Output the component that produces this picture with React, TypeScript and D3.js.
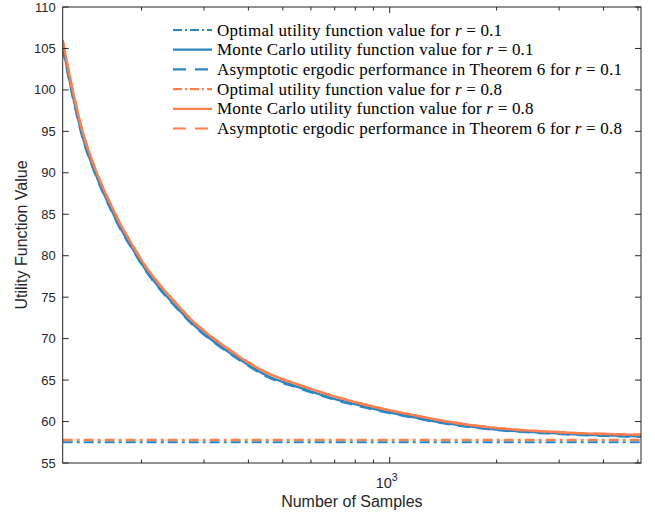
import React from "react";
import * as d3 from "d3";

// sample counts
const sampleCounts = [120, 128, 136.5, 150, 163, 174, 189, 207, 225, 251, 279, 311, 350, 378, 450, 558, 691, 861, 1067, 1161, 1447, 1793, 2221, 2767, 3428, 4247, 5100];

const mcR01 = [105.3, 99.4, 94.4, 89.4, 85.9, 83.4, 80.8, 78.1, 76.1, 73.8, 71.75, 70.05, 68.45, 67.5, 65.55, 64.1, 62.8, 61.75, 60.85, 60.55, 59.78, 59.25, 58.88, 58.63, 58.43, 58.3, 58.2];
const asymR01 = [105.1, 99.2, 94.25, 89.3, 85.8, 83.3, 80.7, 78.0, 76.0, 73.7, 71.65, 69.95, 68.35, 67.4, 65.45, 64.0, 62.7, 61.65, 60.78, 60.48, 59.72, 59.2, 58.83, 58.58, 58.38, 58.25, 58.15];
const mcR08 = [106.0, 100.0, 95.0, 89.9, 86.4, 83.9, 81.2, 78.5, 76.5, 74.2, 72.1, 70.4, 68.8, 67.8, 65.9, 64.4, 63.1, 62.0, 61.1, 60.8, 60.0, 59.45, 59.05, 58.8, 58.6, 58.48, 58.4];
const asymR08 = [106.0, 100.0, 95.0, 89.9, 86.4, 83.9, 81.2, 78.5, 76.5, 74.2, 72.1, 70.4, 68.8, 67.8, 65.9, 64.4, 63.1, 62.0, 61.1, 60.8, 60.0, 59.45, 59.05, 58.8, 58.6, 58.48, 58.4];
const optR01 = 57.5;
const optR08 = 57.78;

const yTicks = [55, 60, 65, 70, 75, 80, 85, 90, 95, 100, 105, 110];
const xMinorTicks = [200, 300, 400, 500, 600, 700, 800, 900, 2000, 3000, 4000, 5000];
const xMajorTicks = [1000];

const legendLabels = [
  ["Optimal utility function value for ", "0.1"],
  ["Monte Carlo utility function value for ", "0.1"],
  ["Asymptotic ergodic performance in Theorem 6 for ", "0.1"],
  ["Optimal utility function value for ", "0.8"],
  ["Monte Carlo utility function value for ", "0.8"],
  ["Asymptotic ergodic performance in Theorem 6 for ", "0.8"],
];

const blue = "#2E86C1";
const orange = "#FF7F4D";
const dashDot = "10,4,3,4";
const dashed = "12,8";

const W = 655;
const H = 514;
const left = 62.7;
const right = 641;
const top = 7;
const bottom = 463;

export default function App() {
  const x = d3.scaleLog().domain([120, 5100]).range([left, right]);
  const y = d3.scaleLinear().domain([55, 110]).range([bottom, top]);

  const line = d3
    .line<number>()
    .x((d, i) => x(sampleCounts[i]))
    .y(d => y(d))
    .curve(d3.curveMonotoneX);

  const series = [
    { vals: null, hv: optR01, color: blue, dash: dashDot },
    { vals: mcR01, color: blue, dash: null },
    { vals: asymR01, color: blue, dash: dashed },
    { vals: null, hv: optR08, color: orange, dash: dashDot },
    { vals: mcR08, color: orange, dash: null },
    { vals: asymR08, color: orange, dash: dashed },
  ];

  const axisColor = "#262626";
  const font = "'Liberation Sans', Arial, sans-serif";
  const serif = "'Liberation Serif', 'DejaVu Serif', serif";

  return (
    <svg width={W} height={H} style={{ position: "absolute", left: 0, top: 0 }}>
      <rect width={W} height={H} fill="#fff" />
      <defs>
        <clipPath id="plot">
          <rect x={left} y={top} width={right - left} height={bottom - top} />
        </clipPath>
      </defs>

      <g clipPath="url(#plot)">
        {series.map((s, i) =>
          s.vals ? (
            <path
              key={i}
              d={line(s.vals) || ""}
              fill="none"
              stroke={s.color}
              strokeWidth={2.4}
              strokeDasharray={s.dash || undefined}
            />
          ) : (
            <line
              key={i}
              x1={left}
              x2={right}
              y1={y(s.hv as number)}
              y2={y(s.hv as number)}
              stroke={s.color}
              strokeWidth={2.2}
              strokeDasharray={s.dash || undefined}
            />
          )
        )}
      </g>

      {/* box */}
      <rect x={left} y={top} width={right - left} height={bottom - top} fill="none" stroke={axisColor} strokeWidth={1} />

      {/* y ticks */}
      {yTicks.map(t => (
        <g key={t}>
          <line x1={left} x2={left + 6} y1={y(t)} y2={y(t)} stroke={axisColor} />
          <line x1={right} x2={right - 6} y1={y(t)} y2={y(t)} stroke={axisColor} />
          <text x={left - 7} y={y(t)} dy="0.35em" textAnchor="end" fontFamily={font} fontSize={13} fill={axisColor}>
            {t}
          </text>
        </g>
      ))}

      {/* x ticks */}
      {xMinorTicks.map(t => (
        <g key={t}>
          <line x1={x(t)} x2={x(t)} y1={bottom} y2={bottom - 3.5} stroke={axisColor} />
          <line x1={x(t)} x2={x(t)} y1={top} y2={top + 3.5} stroke={axisColor} />
        </g>
      ))}
      {xMajorTicks.map(t => (
        <g key={t}>
          <line x1={x(t)} x2={x(t)} y1={bottom} y2={bottom - 6} stroke={axisColor} />
          <line x1={x(t)} x2={x(t)} y1={top} y2={top + 6} stroke={axisColor} />
          <text x={x(t) - 3} y={488} textAnchor="middle" fontFamily={font} fontSize={14.5} fill={axisColor}>
            10
            <tspan dy={-7} fontSize={10.5}>3</tspan>
          </text>
        </g>
      ))}

      <text x={(left + right) / 2} y={507} textAnchor="middle" fontFamily={font} fontSize={16} fill={axisColor}>
        Number of Samples
      </text>
      <text
        transform={`translate(27,${(top + bottom) / 2}) rotate(-90)`}
        textAnchor="middle"
        fontFamily={font}
        fontSize={16}
        fill={axisColor}
      >
        Utility Function Value
      </text>

      {/* legend */}
      {legendLabels.map((lab, i) => {
        const s = series[i];
        const ly = 30 + i * 19.7;
        return (
          <g key={i}>
            <line
              x1={173}
              x2={212}
              y1={ly}
              y2={ly}
              stroke={s.color}
              strokeWidth={2.2}
              strokeDasharray={s.dash === dashed ? "13,9" : s.dash === dashDot ? "9,3,2,3" : undefined}
            />
            <text x={217} y={ly} dy="0.33em" fontFamily={serif} fontSize={17} letterSpacing={0.2} fill="#000">
              {lab[0]}
              <tspan fontStyle="italic">r</tspan>
              {" = "}
              {lab[1]}
            </text>
          </g>
        );
      })}
    </svg>
  );
}
